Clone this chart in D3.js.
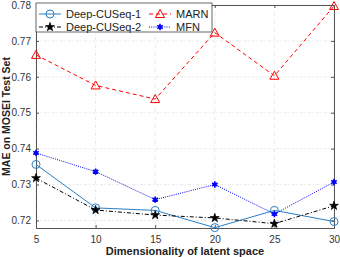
<!DOCTYPE html>
<html>
<head>
<meta charset="utf-8">
<script src="https://cdn.jsdelivr.net/npm/d3@7"></script>
<style>
  body { margin: 0; background: #fff; }
  text { font-family: "Liberation Sans", Arial, sans-serif; }
</style>
</head>
<body>
<div id="chart"></div>
<script>
const dims = [5, 10, 15, 20, 25, 30];
const cuseq1 = [0.7356, 0.7235, 0.7228, 0.7180, 0.7228, 0.7197];
const cuseq2 = [0.7318, 0.7229, 0.7215, 0.7207, 0.7191, 0.7241];
const marn = [0.7661, 0.7576, 0.7538, 0.7723, 0.7603, 0.7797];
const mfn = [0.7388, 0.7336, 0.7258, 0.7300, 0.7218, 0.7307];
const yTicks = [0.72, 0.73, 0.74, 0.75, 0.76, 0.77, 0.78];

const margin = { top: 5, right: 6, bottom: 29, left: 36 };
const width = 340 - margin.left - margin.right;
const height = 257 - margin.top - margin.bottom;

const svg = d3.select("#chart")
    .append("svg")
    .attr("width", 340)
    .attr("height", 257)
    .append("g")
    .attr("transform", `translate(${margin.left},${margin.top})`);

const x = d3.scaleLinear().domain([5, 30]).range([0, width]);
const y = d3.scaleLinear().domain([0.7179, 0.78]).range([height, 0]);

// grid
svg.append("g")
    .selectAll("line")
    .data(dims)
    .join("line")
    .attr("x1", d => x(d)).attr("x2", d => x(d))
    .attr("y1", 0).attr("y2", height)
    .attr("stroke", "#dcdcdc").attr("stroke-width", 0.7)
    .attr("stroke-dasharray", "3,2,1,2");
svg.append("g")
    .selectAll("line")
    .data(yTicks)
    .join("line")
    .attr("x1", 0).attr("x2", width)
    .attr("y1", d => y(d)).attr("y2", d => y(d))
    .attr("stroke", "#dcdcdc").attr("stroke-width", 0.7)
    .attr("stroke-dasharray", "3,2,1,2");

// axes
const axColor = "#555";
svg.append("g")
    .attr("transform", `translate(0,${height})`)
    .call(d3.axisBottom(x).tickValues(dims).tickSize(-3).tickPadding(8));
svg.append("g")
    .call(d3.axisLeft(y).tickValues(yTicks).tickSize(-3).tickPadding(5).tickFormat(d3.format(".2f")));
svg.append("g")
    .attr("transform", `translate(${width},0)`)
    .call(d3.axisRight(y).tickValues(yTicks).tickSize(-3).tickFormat(""));
svg.append("g")
    .call(d3.axisTop(x).tickValues(dims).tickSize(-3).tickFormat(""));
svg.selectAll(".domain").attr("stroke", axColor);
svg.selectAll(".tick line").attr("stroke", axColor);
svg.selectAll(".tick text").attr("fill", "#333").style("font-size", "10px");

// series
const series = [
    { name: "Deep-CUSeq-1", values: cuseq1, color: "#2a7fc4", dash: null, marker: "circle" },
    { name: "Deep-CUSeq-2", values: cuseq2, color: "#000", dash: "4,2,1,2", marker: "star" },
    { name: "MARN", values: marn, color: "#ff0000", dash: "4,3", marker: "triangle" },
    { name: "MFN", values: mfn, color: "#0000ff", dash: "1,1.2", marker: "asterisk" }
];

const line = d3.line().x(d => x(d[0])).y(d => y(d[1]));

function drawMarker(g, type, color) {
    if (type === "circle") {
        g.append("circle").attr("r", 4).attr("fill", "none").attr("stroke", color).attr("stroke-width", 1);
    } else if (type === "star") {
        g.append("path").attr("d", d3.symbol(d3.symbolStar, 24)()).attr("fill", "#000").attr("stroke", "#000").attr("stroke-width", 0.7);
    } else if (type === "triangle") {
        g.append("path").attr("d", "M0,-4.5L4.5,3.5L-4.5,3.5Z").attr("fill", "none").attr("stroke", color).attr("stroke-width", 1);
    } else if (type === "asterisk") {
        g.append("path").attr("d", d3.symbol(d3.symbolAsterisk, 28)()).attr("fill", "none").attr("stroke", color).attr("stroke-width", 1.6);
        g.append("circle").attr("r", 2).attr("fill", color);
    }
}

series.forEach(s => {
    const pts = dims.map((d, i) => [d, s.values[i]]);
    svg.append("path")
        .datum(pts)
        .attr("d", line)
        .attr("fill", "none")
        .attr("stroke", s.color)
        .attr("stroke-width", 1)
        .attr("stroke-dasharray", s.dash);
    svg.append("g")
        .selectAll("g")
        .data(pts)
        .join("g")
        .attr("transform", d => `translate(${x(d[0])},${y(d[1])})`)
        .each(function () { drawMarker(d3.select(this), s.marker, s.color); });
});

// legend
const legend = svg.append("g");
legend.append("rect")
    .attr("x", 0).attr("y", -2)
    .attr("width", 176).attr("height", 29)
    .attr("fill", "#fff").attr("stroke", "#444").attr("stroke-width", 0.8);
series.forEach((s, i) => {
    const col = i < 2 ? 0 : 1;
    const row = i % 2;
    const gx = col === 0 ? 3 : 113;
    const gy = 9 + row * 13;
    const item = legend.append("g").attr("transform", `translate(${gx},${gy})`);
    item.append("line")
        .attr("x1", 0).attr("x2", 22).attr("y1", 0).attr("y2", 0)
        .attr("stroke", s.color).attr("stroke-width", 1)
        .attr("stroke-dasharray", s.dash);
    drawMarker(item.append("g").attr("transform", "translate(11,0)"), s.marker, s.color);
    item.append("text")
        .attr("x", 27).attr("y", 0).attr("dy", "0.35em")
        .style("font-size", "11px").attr("fill", "#222")
        .text(s.name);
});

// labels
svg.append("text")
    .attr("x", width / 2).attr("y", height + 27)
    .attr("text-anchor", "middle")
    .style("font-size", "11px").style("font-weight", "bold").attr("fill", "#222")
    .text("Dimensionality of latent space");
svg.append("text")
    .attr("transform", `translate(${-26},${height / 2}) rotate(-90)`)
    .attr("text-anchor", "middle")
    .style("font-size", "10.5px").style("font-weight", "bold").attr("fill", "#222")
    .text("MAE on MOSEI Test Set");
</script>
</body>
</html>
